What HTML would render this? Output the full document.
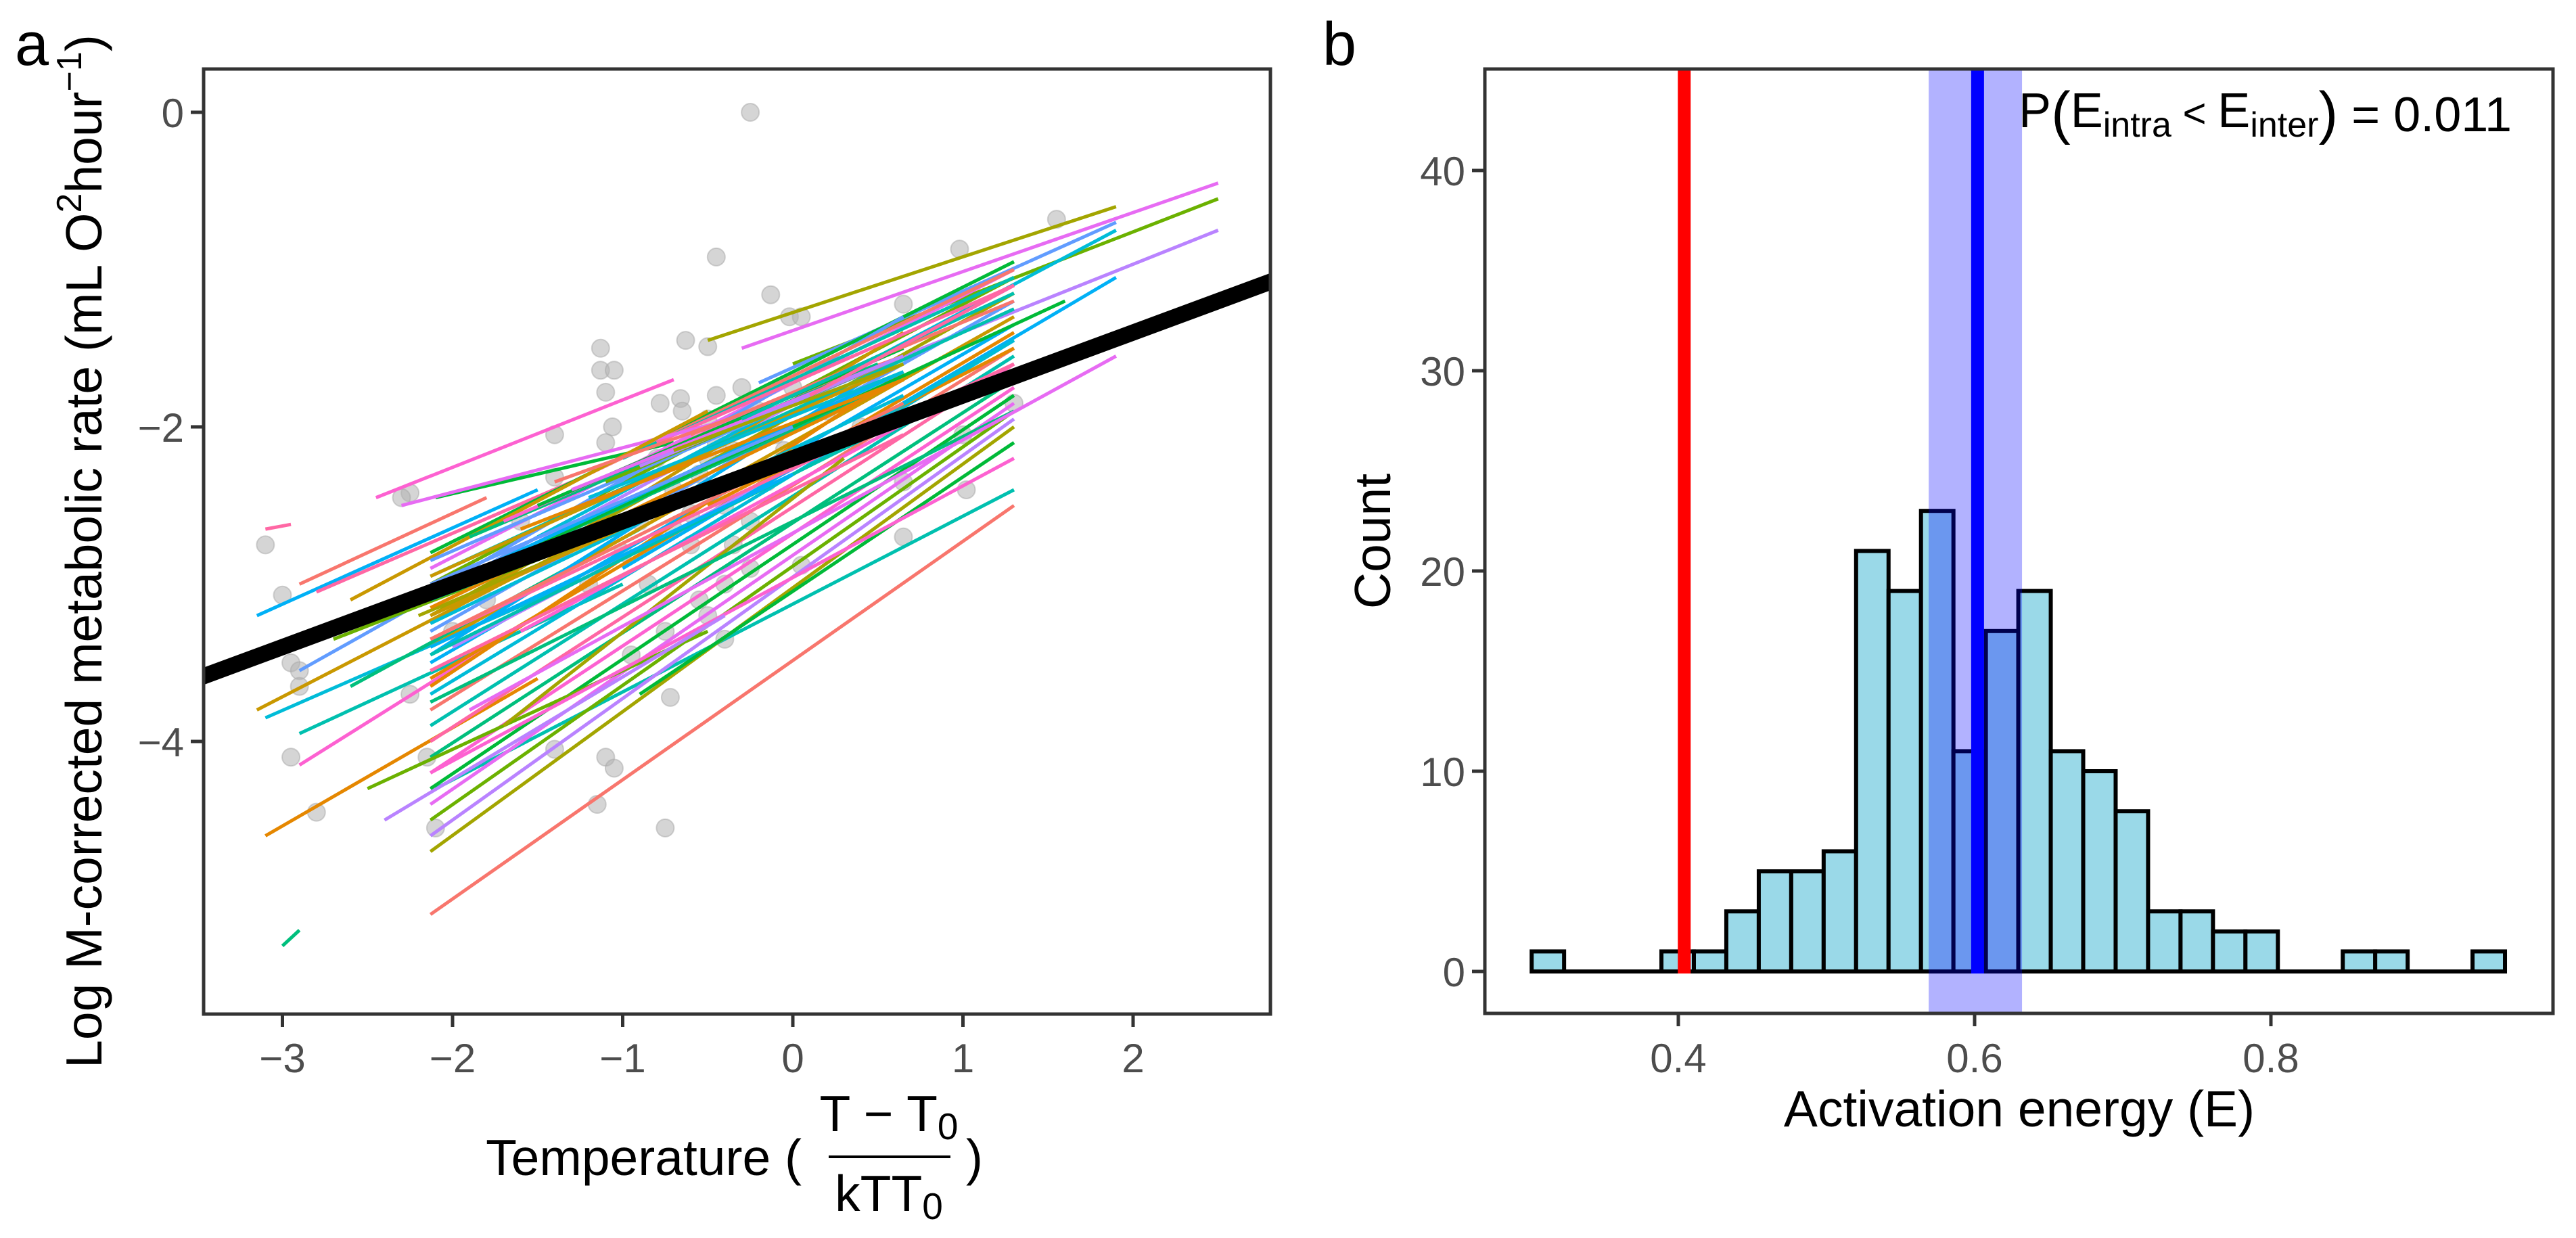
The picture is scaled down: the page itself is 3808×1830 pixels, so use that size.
<!DOCTYPE html>
<html><head><meta charset="utf-8">
<style>
html,body{margin:0;padding:0;background:#fff;}
svg{display:block;font-family:"Liberation Sans",Arial,sans-serif;}
</style></head>
<body>
<svg id="fig" width="3808" height="1830" viewBox="0 0 3808 1830" xmlns="http://www.w3.org/2000/svg">
  <rect x="0" y="0" width="3808" height="1830" fill="#fff"/>
  <defs>
    <clipPath id="clipA"><rect x="301" y="102" width="1577" height="1397"/></clipPath>
    <clipPath id="clipB"><rect x="2195" y="102" width="1579" height="1396"/></clipPath>
  </defs>
  <text x="22" y="96" font-size="90" fill="#000">a</text>
  <text x="1955" y="96" font-size="90" fill="#000">b</text>

  <g id="panelA">
    <g id="aMarks" clip-path="url(#clipA)"></g>
    <rect x="301" y="102" width="1577" height="1397" fill="none" stroke="#333" stroke-width="5"/>
    <g id="aAxes"></g>
    <text transform="translate(150,815) rotate(-90)" text-anchor="middle" font-size="75" fill="#000">Log M-corrected metabolic rate (mL O<tspan font-size="52" dy="-30">2</tspan><tspan dy="30">hour</tspan><tspan font-size="52" dy="-30">−1</tspan><tspan dy="30">)</tspan></text>
    <g>
      <text x="1185" y="1737" text-anchor="end" font-size="75" fill="#000">Temperature (</text>
      <text x="1314" y="1672" text-anchor="middle" font-size="75" fill="#000">T − T<tspan font-size="55" dy="12">0</tspan></text>
      <line x1="1225" y1="1710" x2="1405" y2="1710" stroke="#000" stroke-width="4"/>
      <text x="1314" y="1790" text-anchor="middle" font-size="75" fill="#000">kTT<tspan font-size="55" dy="12">0</tspan></text>
      <text x="1428" y="1737" font-size="75" fill="#000">)</text>
    </g>
  </g>

  <g id="panelB">
    <g id="bMarks" clip-path="url(#clipB)"></g>
    <rect x="2195" y="102" width="1579" height="1396" fill="none" stroke="#333" stroke-width="5"/>
    <g id="bAxes"></g>
    <text transform="translate(2055,800) rotate(-90)" text-anchor="middle" font-size="75" fill="#000">Count</text>
    <text x="2985" y="1665" text-anchor="middle" font-size="75" fill="#000">Activation energy (E)</text>
    <text x="3713" y="188" text-anchor="end" font-size="72" fill="#000">P<tspan font-size="86" dy="8">(</tspan><tspan dy="-8">E</tspan><tspan font-size="52" dy="14">intra</tspan><tspan font-size="60" dy="-14"> &lt; </tspan><tspan>E</tspan><tspan font-size="52" dy="14">inter</tspan><tspan font-size="86" dy="-6">)</tspan><tspan dy="-2"> = 0.011</tspan></text>
  </g>
</svg>
<script>
// ---------- Panel a data ----------
const aXTicks = [-3, -2, -1, 0, 1, 2];
const aYTicks = [0, -2, -4];
const aYTickLabels = ["0", "−2", "−4"];
const aXTickLabels = ["−3", "−2", "−1", "0", "1", "2"];
// species regression lines: start x, start y, end x, end y
const lineX1 = [-2.13,-2.1,-3.1,-3.0,-2.45,-2.1,-0.3,0.0,0.3,-0.5,-0.2,-3.15,-3.15,-3.1,-3.1,-2.9,-2.9,-2.8,-2.6,-2.9,-2.13,-2.13,-2.13,-2.13,-2.13,-2.13,-2.13,-2.13,-2.13,-2.13,-2.13,-2.13,-2.13,-2.13,-2.13,-2.13,-2.13,-2.13,-2.13,-2.13,-2.13,-2.13,-2.13,-2.13,-1.5,-1.2,-1.0,-0.8,-1.8,-1.6,-0.9,-2.3,-2.5,-2.0,-1.7,-2.9,-2.6,-1.0,-0.5,0.1,-1.4,-2.13,-2.13,-2.13,-2.13,-2.0,-1.9,-2.7,-2.4,-2.2,
  -2.13,-2.13,-2.13,-2.13,-2.13,-2.13,-2.13,-2.13,-1.9,-1.7,-1.5,-1.3,-1.1,-0.9,-0.7,-2.13,-2.13,-2.13,-1.6,-1.2,-0.6,-0.3,0.1,-2.13];
const lineY1 = [-5.1,-4.3,-2.65,-5.3,-2.45,-2.45,-1.5,-1.6,-1.7,-1.45,-1.72,-3.8,-3.2,-4.6,-3.85,-3.0,-3.95,-3.05,-3.65,-4.15,-2.8,-2.9,-3.0,-3.1,-3.2,-3.3,-3.4,-3.5,-3.6,-3.7,-3.8,-3.9,-4.0,-4.1,-4.2,-4.3,-4.4,-4.5,-4.6,-4.7,-3.05,-3.25,-3.45,-3.65,-2.7,-2.3,-2.2,-2.1,-2.9,-3.3,-3.7,-2.5,-4.3,-3.4,-3.9,-3.55,-3.1,-2.9,-2.5,-2.2,-2.35,-2.95,-3.35,-3.75,-4.2,-3.0,-3.8,-3.35,-4.5,-3.2,
  -2.85,-2.95,-3.05,-3.15,-3.25,-3.35,-3.45,-3.55,-2.7,-2.6,-2.5,-2.4,-2.35,-2.25,-2.15,-3.0,-3.2,-3.4,-2.65,-2.45,-2.05,-1.95,-1.8,-3.1];
const lineX2 = [1.3,1.3,-2.95,-2.9,-0.7,-0.7,2.5,2.5,2.5,1.9,1.9,-1.0,-1.5,-1.5,-1.2,-1.8,-1.0,-1.3,-0.9,-1.5,1.3,1.3,1.3,1.3,1.3,1.3,1.3,1.3,1.3,1.3,1.3,1.3,1.3,1.3,1.3,1.3,1.3,1.3,1.3,1.3,0.65,0.65,0.65,0.65,1.9,1.3,1.3,1.3,0.65,1.3,1.3,0.0,-0.5,0.65,0.3,-1.5,-0.5,1.9,1.3,1.3,0.65,1.3,1.3,1.3,1.3,1.6,1.9,-0.8,-0.4,0.2,
  0.65,0.65,0.65,0.65,0.65,0.65,0.65,0.65,0.5,0.4,0.65,0.65,0.65,0.65,0.65,0.0,0.0,0.0,0.65,0.65,1.3,1.3,1.3,0.3];
const lineY2 = [-2.5,-2.4,-2.62,-5.2,-1.7,-2.1,-0.45,-0.55,-0.75,-0.6,-0.7,-2.6,-2.4,-3.6,-2.95,-2.45,-3.0,-2.35,-2.65,-3.2,-0.95,-1.0,-1.05,-1.1,-1.15,-1.2,-1.3,-1.35,-1.4,-1.45,-1.5,-1.55,-1.6,-1.7,-1.75,-1.8,-1.85,-1.9,-1.95,-2.0,-1.3,-1.4,-1.55,-1.65,-0.75,-1.0,-1.05,-1.1,-1.7,-1.6,-2.1,-1.85,-3.3,-1.9,-2.2,-2.7,-1.9,-1.05,-1.5,-1.45,-1.55,-1.25,-1.6,-1.9,-2.2,-1.2,-1.55,-2.55,-3.2,-2.1,
  -1.55,-1.6,-1.65,-1.7,-1.8,-1.85,-1.95,-2.05,-1.6,-1.6,-1.5,-1.55,-1.55,-1.55,-1.6,-2.0,-2.15,-2.3,-1.7,-1.65,-1.2,-1.15,-1.1,-2.1];
const palette = ["#F8766D","#E58700","#C99800","#A3A500","#6BB100","#00BA38","#00BF7D","#00C0AF","#00BCD8","#00B0F6","#619CFF","#B983FF","#E76BF3","#FD61D1","#FF67A4"];
const ptX = [-0.25,-0.45,1.55,0.98,-0.13,-0.02,0.05,0.65,-0.63,-0.5,-1.13,-1.13,-1.05,-1.1,-0.78,-1.06,-0.66,-1.4,-1.4,-2.25,-2.3,-3.1,-3.0,-2.95,-2.9,-2.9,-2.95,-2.8,-2.15,-2.1,-2.25,-1.4,-1.15,-1.1,-1.05,-0.75,-0.72,-0.4,-0.5,0.65,0.05,0.65,1.02,1.3,1.0,-0.95,-0.4,-0.6,-0.25,-0.5,-0.45,-0.35,-0.55,-0.3,-0.7,-0.8,-0.2,-0.1,-0.6,-0.4,-0.9,-1.0,-1.2,-0.3,0.0,0.2,-0.5,-0.7,-0.15,-0.85,-1.3,-0.55,-0.25,0.4,-1.6,-1.8,-2.0,-0.45,-0.65,-1.1,-0.35,-0.05,-0.75];
const ptY = [0,-0.92,-0.68,-0.87,-1.16,-1.3,-1.3,-1.22,-1.45,-1.49,-1.5,-1.64,-1.64,-1.78,-1.85,-2.0,-1.82,-2.05,-2.32,-2.42,-2.45,-2.75,-3.07,-3.5,-3.55,-3.65,-4.1,-4.45,-4.1,-4.55,-3.7,-4.05,-4.4,-4.1,-4.17,-4.55,-3.72,-3.35,-3.2,-2.7,-2.88,-2.35,-2.4,-1.85,-2.05,-3.45,-3.0,-2.75,-2.6,-2.2,-2.1,-2.15,-2.3,-2.0,-2.4,-2.2,-1.9,-2.05,-2.55,-2.5,-2.6,-2.8,-3.0,-1.75,-1.75,-1.9,-1.95,-2.65,-2.35,-3.0,-2.7,-3.1,-2.9,-2.0,-2.6,-3.1,-3.3,-1.8,-1.9,-2.1,-2.75,-2.15,-3.3];
const fitIntercept = -2.2;
const fitSlope = 0.4;

// ---------- Panel b data ----------
const binStart = 0.301;
const binWidth = 0.0219;
const counts = [1,0,0,0,1,1,3,5,5,6,21,19,23,11,17,19,11,10,8,3,3,2,2,0,0,1,1,0,0,1];
const bXTicks = [0.4, 0.6, 0.8];
const bXTickLabels = ["0.4","0.6","0.8"];
const bYTicks = [0,10,20,30,40];
const bYTickLabels = ["0","10","20","30","40"];
const interE = 0.404;
const intraE = 0.602;
const intraLo = 0.569;
const intraHi = 0.632;

const NS = "http://www.w3.org/2000/svg";
function mk(tag, attrs, parent){const e=document.createElementNS(NS,tag);for(const k in attrs)e.setAttribute(k,attrs[k]);parent.appendChild(e);return e;}

// axis functions panel a
const ax = v => 1172 + v*251.5;
const ay = v => 166 - v*232.5;
const aM = document.getElementById('aMarks');
const aA = document.getElementById('aAxes');
for(let i=0;i<ptX.length;i++){
  const c = mk('circle',{cx:ax(ptX[i]),cy:ay(ptY[i]),r:13,fill:'#b3b3b3','fill-opacity':0.55,stroke:'#a8a8a8','stroke-opacity':0.5,'stroke-width':2},aM);
  
  
}
for(let i=0;i<lineX1.length;i++){
  const l = mk('line',{x1:ax(lineX1[i]),y1:ay(lineY1[i]),x2:ax(lineX2[i]),y2:ay(lineY2[i]),stroke:palette[(i*7)%palette.length],'stroke-width':5},aM);
  
  
}
const fl = mk('line',{x1:ax(-3.6),y1:ay(fitIntercept+fitSlope*-3.6),x2:ax(2.9),y2:ay(fitIntercept+fitSlope*2.9),stroke:'#000','stroke-width':24},aM);


aXTicks.forEach((t,i)=>{
  const tk = mk('line',{x1:ax(t),y1:1499,x2:ax(t),y2:1518,stroke:'#333','stroke-width':5},aA);
  
  
  const tx = mk('text',{x:ax(t),y:1585,'text-anchor':'middle','font-size':60,fill:'#4d4d4d'},aA);
  tx.textContent = aXTickLabels[i];
  
  
});
aYTicks.forEach((t,i)=>{
  const tk = mk('line',{x1:282,y1:ay(t),x2:301,y2:ay(t),stroke:'#333','stroke-width':5},aA);
  
  
  const tx = mk('text',{x:272,y:ay(t)+22,'text-anchor':'end','font-size':60,fill:'#4d4d4d'},aA);
  tx.textContent = aYTickLabels[i];
  
  
});

// axis functions panel b
const bx = v => 2481 + (v-0.4)*2190;
const by = v => 1436 - v*29.6;
const bM = document.getElementById('bMarks');
const bA = document.getElementById('bAxes');
const base = mk('line',{x1:bx(binStart),y1:by(0),x2:bx(binStart+binWidth*counts.length),y2:by(0),stroke:'#000','stroke-width':6},bM);


counts.forEach((c,i)=>{
  if(c<=0) return;
  const x0 = bx(binStart+i*binWidth), x1 = bx(binStart+(i+1)*binWidth);
  const r = mk('rect',{x:x0,y:by(c),width:x1-x0,height:by(0)-by(c),fill:'#9AD9E8',stroke:'#000','stroke-width':6},bM);
  
  
});
const band = mk('rect',{x:bx(intraLo),y:90,width:bx(intraHi)-bx(intraLo),height:1420,fill:'#0000ff','fill-opacity':0.3},bM);


const rl = mk('line',{x1:bx(interE),y1:90,x2:bx(interE),y2:by(0)+3,stroke:'#ff0000','stroke-width':19},bM);


const bl = mk('line',{x1:bx(intraE),y1:90,x2:bx(intraE),y2:by(0)+3,stroke:'#0000ff','stroke-width':19},bM);


bXTicks.forEach((t,i)=>{
  const tk = mk('line',{x1:bx(t),y1:1498,x2:bx(t),y2:1517,stroke:'#333','stroke-width':5},bA);
  
  
  const tx = mk('text',{x:bx(t),y:1585,'text-anchor':'middle','font-size':60,fill:'#4d4d4d'},bA);
  tx.textContent = bXTickLabels[i];
  
  
});
bYTicks.forEach((t,i)=>{
  const tk = mk('line',{x1:2176,y1:by(t),x2:2195,y2:by(t),stroke:'#333','stroke-width':5},bA);
  
  
  const tx = mk('text',{x:2166,y:by(t)+22,'text-anchor':'end','font-size':60,fill:'#4d4d4d'},bA);
  tx.textContent = bYTickLabels[i];
  
  
});
</script>
</body></html>
